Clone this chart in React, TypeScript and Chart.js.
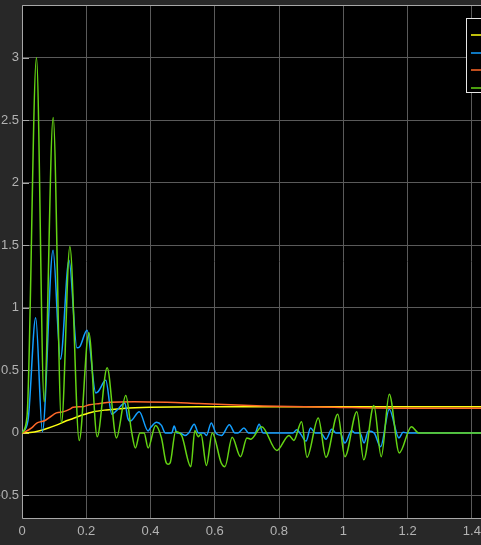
import React, { useEffect, useRef } from "react";
import { Chart, registerables } from "chart.js";

Chart.register(...registerables);

// ---- data ----
const X_TICKS = [0, 0.2, 0.4, 0.6, 0.8, 1, 1.2, 1.4];
const Y_TICKS = [-0.5, 0, 0.5, 1, 1.5, 2, 2.5, 3];
const SERIES_NAMES = ["Signal 1", "Signal 2", "Signal 3", "Signal 4"];

const YELLOW_T = [0, 0.025, 0.055, 0.08, 0.107, 0.138, 0.159, 0.19, 0.22, 0.263, 0.315, 0.398, 0.55, 1.5];
const YELLOW_V = [0, 0.003, 0.018, 0.037, 0.062, 0.097, 0.115, 0.145, 0.168, 0.184, 0.196, 0.205, 0.21, 0.21];

const BLUE_T = [0, 0.0187, 0.0427, 0.0635, 0.0966, 0.1196, 0.1464, 0.171, 0.18, 0.2025, 0.2296, 0.237, 0.2607, 0.2794, 0.295, 0.32, 0.329, 0.337, 0.365, 0.3925, 0.401, 0.4187, 0.434, 0.446, 0.466, 0.4735, 0.482, 0.491, 0.507, 0.519, 0.536, 0.549, 0.566, 0.574, 0.589, 0.603, 0.621, 0.6455, 0.6626, 0.672, 0.6907, 0.7047, 0.725, 0.738, 0.75, 0.843, 0.855, 0.865, 0.884, 0.898, 0.912, 0.93, 0.946, 0.964, 0.977, 0.99, 1.005, 1.026, 1.036, 1.052, 1.0645, 1.078, 1.096, 1.116, 1.143, 1.173, 1.186, 1.198, 1.5];
const BLUE_V = [0, 0.1, 0.92, 0.01, 1.46, 0.59, 1.38, 0.68, 0.69, 0.82, 0.32, 0.33, 0.42, 0.15, 0.18, 0.24, 0.12, 0.095, 0.17, 0.015, 0.045, 0.085, 0.06, 0, 0, 0.055, 0, 0, -0.02, 0, 0.07, 0, 0, -0.02, 0.08, 0, -0.02, 0.065, 0, 0, 0.04, 0, 0, 0.07, 0, 0, 0.025, 0, -0.065, 0.04, 0, 0, -0.05, 0.03, 0, 0, -0.08, 0.02, 0, 0, -0.08, 0.015, 0, -0.11, 0.19, -0.04, 0.005, 0, 0];

const ORANGE_T = [0, 0.0104, 0.03, 0.045, 0.056, 0.07, 0.086, 0.107, 0.13, 0.149, 0.159, 0.19, 0.21, 0.242, 0.273, 0.35, 0.45, 0.55, 0.75, 0.97, 1.18, 1.5];
const ORANGE_V = [0, 0.01, 0.04, 0.077, 0.088, 0.097, 0.125, 0.16, 0.17, 0.19, 0.205, 0.21, 0.225, 0.235, 0.245, 0.25, 0.245, 0.235, 0.216, 0.205, 0.197, 0.197];

const GREEN_T = [0, 0.0156, 0.045, 0.069, 0.097, 0.123, 0.149, 0.178, 0.208, 0.234, 0.265, 0.294, 0.323, 0.341, 0.353, 0.367, 0.38, 0.3925, 0.4156, 0.434, 0.449, 0.455, 0.461, 0.478, 0.4966, 0.5255, 0.538, 0.548, 0.557, 0.574, 0.592, 0.62, 0.6315, 0.654, 0.68, 0.7, 0.712, 0.746, 0.793, 0.831, 0.846, 0.87, 0.887, 0.922, 0.946, 0.9825, 1.005, 1.042, 1.0635, 1.095, 1.118, 1.143, 1.174, 1.212, 1.234, 1.5];
const GREEN_V = [0, 0.13, 3.0, 0.25, 2.52, 0.08, 1.49, -0.06, 0.8, -0.03, 0.52, -0.04, 0.3, 0.01, -0.12, 0, 0, -0.12, 0.06, -0.04, -0.24, -0.25, -0.24, 0.01, -0.02, -0.27, 0.02, -0.03, -0.01, -0.26, 0, -0.24, -0.27, -0.035, -0.19, -0.04, -0.05, 0.05, -0.14, -0.02, -0.06, 0.09, -0.195, 0.12, -0.195, 0.15, -0.19, 0.17, -0.215, 0.22, -0.19, 0.31, -0.16, 0.05, 0, 0];

const COLORS = ["#ffff11", "#139fff", "#ff6929", "#64d413"];

const FONT = "'Liberation Sans', Arial, sans-serif";

function pts(t: number[], v: number[]) {
  return t.map((x, i) => ({ x, y: v[i] }));
}

const framePlugin = {
  id: "frame",
  beforeDraw(chart: any) {
    const { ctx, chartArea: a } = chart;
    ctx.save();
    ctx.fillStyle = "#000000";
    ctx.fillRect(a.left, a.top, a.right - a.left, a.bottom - a.top);
    ctx.restore();
  },
  beforeDatasetsDraw(chart: any) {
    const { ctx, chartArea: a } = chart;
    const ys = chart.scales.y;
    ctx.save();
    ctx.strokeStyle = "#a8a8a8";
    ctx.lineWidth = 1;
    ctx.beginPath();
    ctx.rect(Math.round(a.left) + 0.5, Math.round(a.top) + 0.5, a.right - a.left, a.bottom - a.top);
    ctx.stroke();
    ctx.beginPath();
    for (const v of Y_TICKS) {
      const y = Math.round(ys.getPixelForValue(v)) + 0.5;
      ctx.moveTo(a.left, y);
      ctx.lineTo(a.left + 7, y);
    }
    ctx.stroke();
    ctx.restore();
  },
  afterDraw(chart: any) {
    const { ctx } = chart;
    // legend box (canvas coords; canvas is shifted 10px left)
    const bx = 476.5, by = 18.5, bw = 90, bh = 74;
    ctx.save();
    ctx.fillStyle = "#000000";
    ctx.fillRect(bx, by, bw, bh);
    ctx.strokeStyle = "#e6e6e6";
    ctx.lineWidth = 1;
    ctx.strokeRect(bx, by, bw, bh);
    const rows = [35, 53, 70, 88];
    ctx.font = "12px " + FONT;
    ctx.textBaseline = "middle";
    rows.forEach((ry, i) => {
      ctx.strokeStyle = COLORS[i];
      ctx.lineWidth = 1.5;
      ctx.beginPath();
      ctx.moveTo(481, ry);
      ctx.lineTo(503, ry);
      ctx.stroke();
      ctx.fillStyle = "#e6e6e6";
      ctx.fillText(SERIES_NAMES[i], 508, ry);
    });
    ctx.restore();
  },
};

export default function App() {
  const ref = useRef<HTMLCanvasElement | null>(null);
  useEffect(() => {
    if (!ref.current) return;
    const series = [
      [YELLOW_T, YELLOW_V],
      [BLUE_T, BLUE_V],
      [ORANGE_T, ORANGE_V],
      [GREEN_T, GREEN_V],
    ];
    const chart = new Chart(ref.current, {
      type: "line",
      data: {
        datasets: series.map(([t, v], i) => ({
          label: SERIES_NAMES[i],
          data: pts(t as number[], v as number[]),
          borderColor: COLORS[i],
          backgroundColor: COLORS[i],
          borderWidth: 1.5,
          pointRadius: 0,
          fill: false,
          cubicInterpolationMode: "monotone" as const,
          order: 4 - i,
        })),
      },
      options: {
        responsive: false,
        animation: false,
        layout: { padding: { left: 0, top: 5, right: 46, bottom: 0 } },
        plugins: { legend: { display: false }, tooltip: { enabled: false } },
        scales: {
          x: {
            type: "linear",
            min: 0,
            max: 1.5,
            afterBuildTicks: (s: any) => {
              s.ticks = X_TICKS.map((v) => ({ value: v }));
            },
            afterFit: (s: any) => {
              s.height = 27;
              s.paddingLeft = 0;
              s.paddingRight = 0;
              s.paddingTop = 0;
              s.paddingBottom = 0;
            },
            grid: { color: "#5a5a5a", drawTicks: false, lineWidth: 1 },
            border: { display: false },
            ticks: {
              color: "#b3b3b3",
              font: { family: FONT, size: 13 },
              padding: 6,
              maxRotation: 0,
              autoSkip: false,
              callback: (v: any) => String(v),
            },
          },
          y: {
            type: "linear",
            min: -0.68,
            max: 3.42,
            afterBuildTicks: (s: any) => {
              s.ticks = Y_TICKS.map((v) => ({ value: v }));
            },
            afterFit: (s: any) => {
              s.width = 32;
              s.paddingLeft = 0;
              s.paddingRight = 0;
              s.paddingTop = 0;
              s.paddingBottom = 0;
            },
            grid: { color: "#5a5a5a", drawTicks: false, lineWidth: 1 },
            border: { display: false },
            ticks: {
              color: "#b3b3b3",
              font: { family: FONT, size: 13 },
              padding: 3,
              autoSkip: false,
              callback: (v: any) => String(v),
            },
          },
        },
      },
      plugins: [framePlugin],
    } as any);
    return () => chart.destroy();
  }, []);
  return (
    <div
      style={{
        position: "fixed",
        left: 0,
        top: 0,
        width: 481,
        height: 545,
        overflow: "hidden",
        background: "#282828",
      }}
    >
      <canvas
        ref={ref}
        width={560}
        height={545}
        style={{ position: "absolute", left: -10, top: 0, width: 560, height: 545 }}
      />
    </div>
  );
}
